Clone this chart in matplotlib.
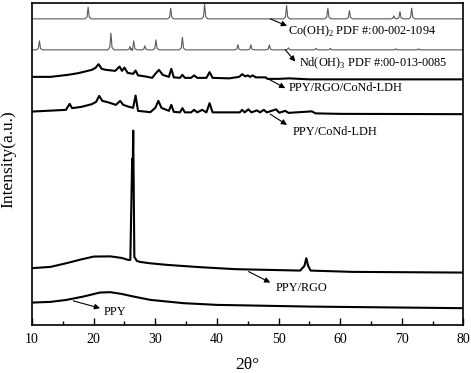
import numpy as np
import matplotlib
matplotlib.use('Agg')
import matplotlib.pyplot as plt

# reference patterns: baseline level and (position, height) of each peak
co_base = 306
co_pos = [19.1, 32.5, 38.0, 51.3, 58.0, 61.5, 68.7, 69.7, 71.6]
co_hgt = [11.7, 10.7, 14.5, 13.3, 10.7, 8.3, 3.0, 7.3, 10.7]

nd_base = 275
nd_pos = [11.2, 22.8, 25.9, 26.5, 28.3, 30.1, 34.4, 43.4, 45.5, 48.5, 51.6, 56.1, 58.4, 69.0, 72.7]
nd_hgt = [9.0, 16.7, 3.3, 9.0, 4.0, 10.0, 12.7, 5.0, 5.0, 5.0, 2.0, 1.5, 1.5, 1.0, 1.0]

ldh_rgo_x = [10, 13, 15.8, 17.5, 19.7, 20.3, 20.8, 21.3, 22, 23.5, 24.2, 24.6, 25.0, 25.5, 26.4,
             26.8, 27.2, 28.5, 29.5, 30.0, 30.6, 31.2, 32.2, 32.6, 33.0, 34.0, 34.4, 34.8, 35.8,
             36.3, 36.8, 38.3, 38.8, 39.3, 42, 43.6, 44.1, 44.6, 45.0, 45.4, 45.8, 46.3, 47.9,
             48.2, 50, 51.7, 55, 60, 65, 70, 80]
ldh_rgo_y = [248, 248, 250, 251.7, 255, 257, 260.7, 256, 255, 254, 258.3, 254, 257.3, 252, 251,
             254.3, 249.5, 248.3, 247, 251, 255, 250, 248, 256, 247.5, 247, 250, 247, 247,
             249.5, 247, 247, 252.7, 247, 246.5, 248, 250.7, 248.5, 249.5, 248, 249.5, 247.5, 247.5,
             246, 246, 246.5, 245.5, 245.5, 245.5, 245.5, 245.5]

ldh_x = [10, 15.5, 16.1, 16.5, 18, 19.7, 20.4, 20.9, 21.4, 22.5, 23.6, 24.3, 24.8, 25.6, 26.4,
         26.8, 27.2, 29.2, 30.0, 30.5, 31.0, 32.2, 32.6, 33.0, 34.0, 34.4, 34.8, 35.8, 36.3, 36.8,
         37.6, 38.3, 38.8, 39.3, 43.7, 44.1, 44.5, 45.1, 45.6, 46.5, 47.0, 47.6, 48.1, 49.6, 50.1,
         51.1, 51.6, 55.4, 56, 60, 80]
ldh_y = [213.3, 215, 221, 216.7, 218, 220.7, 223, 229, 224, 222.3, 220, 224, 220, 218.3, 217,
         229.3, 214, 212.7, 217, 224, 217, 214, 220, 213, 212.5, 216.7, 212.5, 212.5, 215, 212.5,
         215, 212.5, 221.7, 212.5, 212.5, 215, 212.5, 215.5, 212.5, 214.5, 212.5, 215, 212.5, 215.5, 212.2,
         214, 212, 213.5, 211.5, 211, 210.7]

rgo_x = [10, 13, 15.6, 18, 20, 22.7, 24.5, 25.6, 25.95, 26.25, 26.32, 26.42, 26.6, 27, 27.5, 29,
         31.9, 37.3, 43, 53.5, 54.2, 54.5, 54.8, 55.2, 62, 80]
rgo_y = [56.7, 58, 61.7, 65.5, 68.3, 68.5, 67, 65, 65, 166, 150, 194.3, 68, 64, 63, 61.7,
         60, 57.7, 55.7, 54.3, 59, 66.7, 59, 54.3, 53, 52.3]

ppy_x = [10, 13, 15.6, 18.3, 21, 22.7, 24.5, 26.5, 29.2, 34.6, 40, 55, 80]
ppy_y = [22.3, 23, 25, 28.3, 32.3, 32.7, 31, 28.3, 25, 21.7, 20, 18.3, 16.7]

labels = ['Co(OH)$_2$ PDF #:00-002-1094', 'Nd(OH)$_3$ PDF #:00-013-0085',
          'PPY/RGO/CoNd-LDH', 'PPY/CoNd-LDH', 'PPY/RGO', 'PPY']


def stick_pattern(base, pos, hgt):
    xs, ys = [10], [base]
    for p, h in zip(pos, hgt):
        xs += [p - 0.5, p - 0.18, p, p + 0.18, p + 0.5]
        ys += [base, base + 0.15 * h, base + h, base + 0.15 * h, base]
    xs.append(80)
    ys.append(base)
    return xs, ys


plt.rcParams['font.family'] = 'Liberation Serif'
plt.rcParams['mathtext.fontset'] = 'custom'
plt.rcParams['mathtext.rm'] = 'Liberation Serif'
plt.rcParams['font.size'] = 10

fig = plt.figure(figsize=(4.71, 3.73), dpi=100)
ax = fig.add_axes([0.068, 0.129, 0.916, 0.862])

gray = '#5a5a5a'
cx, cy = stick_pattern(co_base, co_pos, co_hgt)
ax.plot(cx, cy, color=gray, lw=0.8)
nx, ny = stick_pattern(nd_base, nd_pos, nd_hgt)
ax.plot(nx, ny, color=gray, lw=0.8)
ax.plot(ldh_rgo_x, ldh_rgo_y, color='black', lw=1.5)
ax.plot(ldh_x, ldh_y, color='black', lw=1.5)
ax.plot(rgo_x, rgo_y, color='black', lw=1.5)
ax.plot(ppy_x, ppy_y, color='black', lw=1.5)

# arrows: (tail, head, text position)
arrows = [((48.65, 306), (51.37, 299), (51.58, 293.3)),
          ((51.09, 275), (52.72, 263.3), (53.25, 261.7)),
          ((48.12, 246.7), (51.09, 236.7), (51.63, 236.7)),
          ((48.65, 210.7), (51.37, 200), (52.34, 193.3)),
          ((45.13, 53.3), (48.65, 42.3), (49.47, 36.7)),
          ((16.71, 24), (21.04, 16.7), (21.69, 13.3))]
for lab, (tail, head, tpos) in zip(labels, arrows):
    ax.annotate('', xy=head, xytext=tail,
                arrowprops=dict(arrowstyle='-|>', color='black', lw=0.8, mutation_scale=8,
                                shrinkA=0, shrinkB=0))
    ax.text(tpos[0], tpos[1], lab, ha='left', va='center', fontsize=8.8)

ax.set_xlim(10, 80)
ax.set_ylim(0, 321.5)
ax.set_xticks(np.arange(10, 81, 10))
ax.set_xticks(np.arange(15, 80, 10), minor=True)
ax.set_yticks([])
ax.tick_params(axis='x', direction='in', length=5, width=1, labelsize=10, pad=6)
ax.tick_params(axis='x', which='minor', direction='in', length=3, width=1)
for s in ax.spines.values():
    s.set_linewidth(1.2)

ax.set_xlabel('2θ°', fontsize=12.5, labelpad=8)
ax.set_ylabel('Intensity(a.u.)', fontsize=12.5)
ax.yaxis.set_label_coords(-0.037, 0.516)

fig.savefig('out.png', dpi=100)
